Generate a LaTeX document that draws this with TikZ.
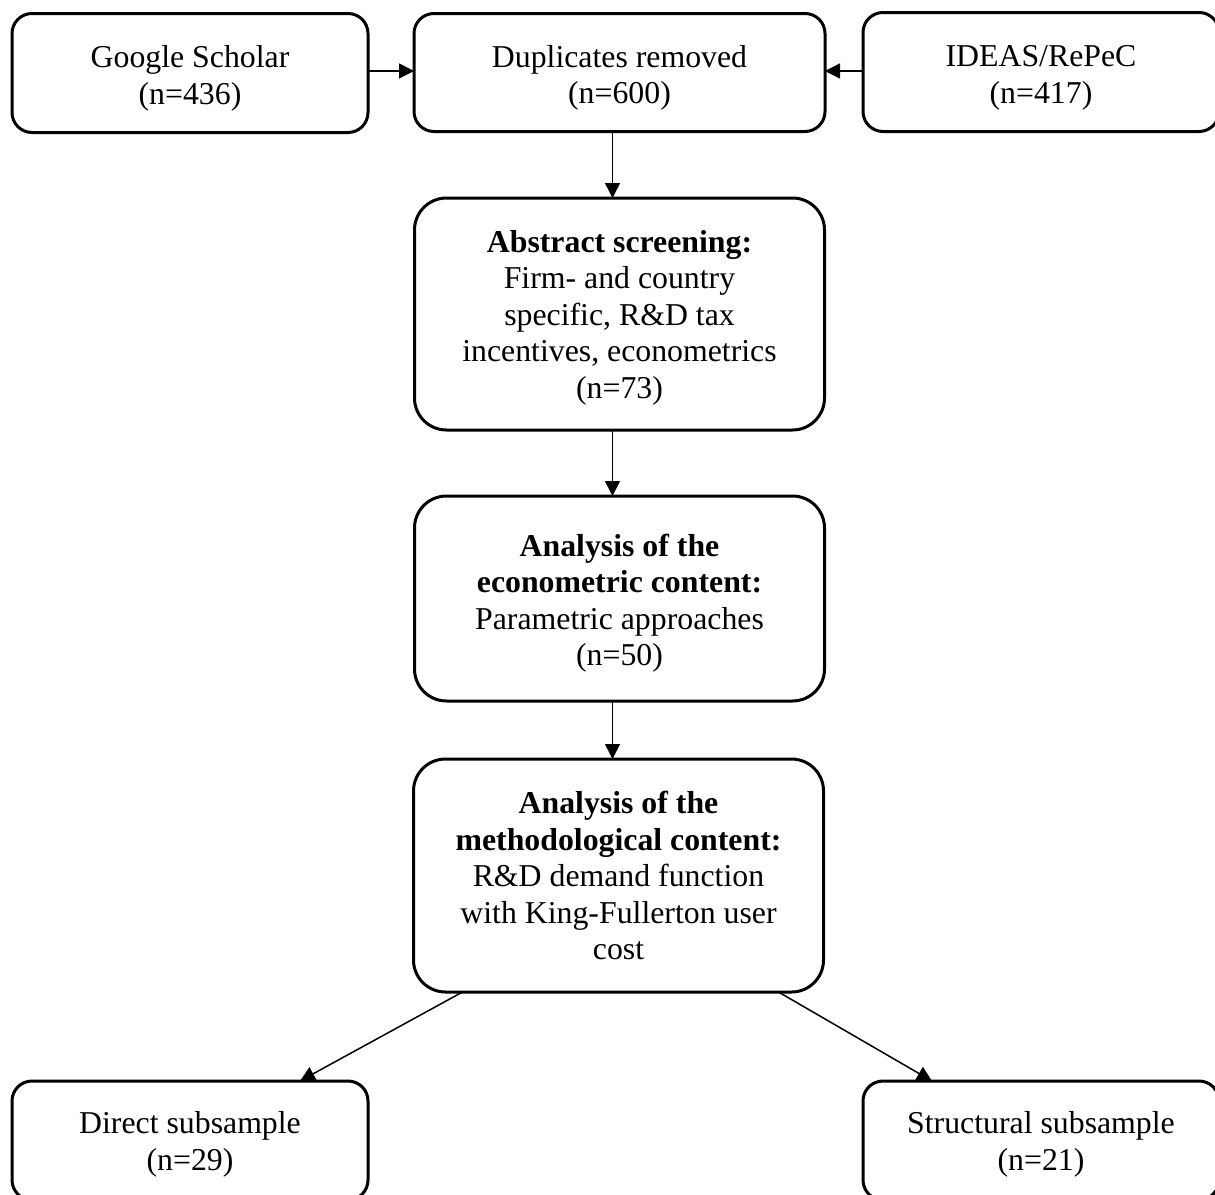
\documentclass[tikz,border=0pt]{standalone}
\usepackage{fontspec}
\setmainfont{Liberation Serif}
\usetikzlibrary{arrows.meta}
% invisible strut to push the text towards the box top
\newcommand{\tpad}[1]{\rule{0pt}{#1}}
\tikzset{
  box/.style={draw, line width=1.5pt, rounded corners=10pt, align=center,
    inner sep=0pt, outer sep=0pt, font=\fontsize{15.9}{18.25}\selectfont},
  smallbox/.style={box, minimum width=178pt, minimum height=59.5pt},
  midbox/.style={smallbox, minimum width=205.5pt, minimum height=59pt},
  stagebox/.style={box, rounded corners=16pt, minimum width=205pt},
  flow/.style={line width=0.75pt, -{Triangle[length=7.5pt,width=7.5pt]}}
}
\begin{document}
\begin{tikzpicture}[x=0.5pt,y=-0.5pt]
  \useasboundingbox (0,0) rectangle (1215,1194);
  % Sources
  \node[smallbox] (gs) at (190,73) {\tpad{16.5pt}Google Scholar\\(n=436)};
  \node[midbox] (dup) at (619.5,72.5) {\tpad{16.5pt}Duplicates removed\\(n=600)};
  \node[smallbox] (ideas) at (1041,72) {\tpad{16.5pt}IDEAS/RePeC\\(n=417)};
  % Screening stages
  \node[stagebox, minimum height=116pt] (abs) at (619.5,314)
    {\tpad{14.5pt}\textbf{Abstract screening:}\\Firm- and country\\specific, R\&D tax\\incentives, econometrics\\(n=73)};
  \node[stagebox, minimum height=102.5pt] (ana) at (619.5,598.5)
    {\tpad{15.7pt}\textbf{Analysis of the}\\\textbf{econometric content:}\\Parametric approaches\\(n=50)};
  \node[stagebox, minimum height=116.5pt] (meth) at (618.5,875.5)
    {\textbf{Analysis of the}\\\textbf{methodological content:}\\R\&D demand function\\with King-Fullerton user\\cost};
  % Subsamples
  \node[smallbox] (direct) at (190,1140.5) {\tpad{15pt}Direct subsample\\(n=29)};
  \node[smallbox] (struct) at (1041,1140.5) {\tpad{15pt}Structural subsample\\(n=21)};
  % Arrows
  \draw[flow] (gs.east |- 0,71) -- (dup.west |- 0,71);
  \draw[flow] (ideas.west |- 0,71) -- (dup.east |- 0,71);
  \draw[flow] ([xshift=-3.5pt]dup.south) -- ([xshift=-3.5pt]abs.north);
  \draw[flow] ([xshift=-3.5pt]abs.south) -- ([xshift=-3.5pt]ana.north);
  \draw[flow] ([xshift=-3.5pt]ana.south) -- ([xshift=-3.5pt]ana.south |- meth.north);
  \draw[flow] ([xshift=-78pt]meth.south) -- ([xshift=55pt]direct.north);
  \draw[flow] ([xshift=80pt]meth.south) -- ([xshift=-54.5pt]struct.north);
\end{tikzpicture}
\end{document}
